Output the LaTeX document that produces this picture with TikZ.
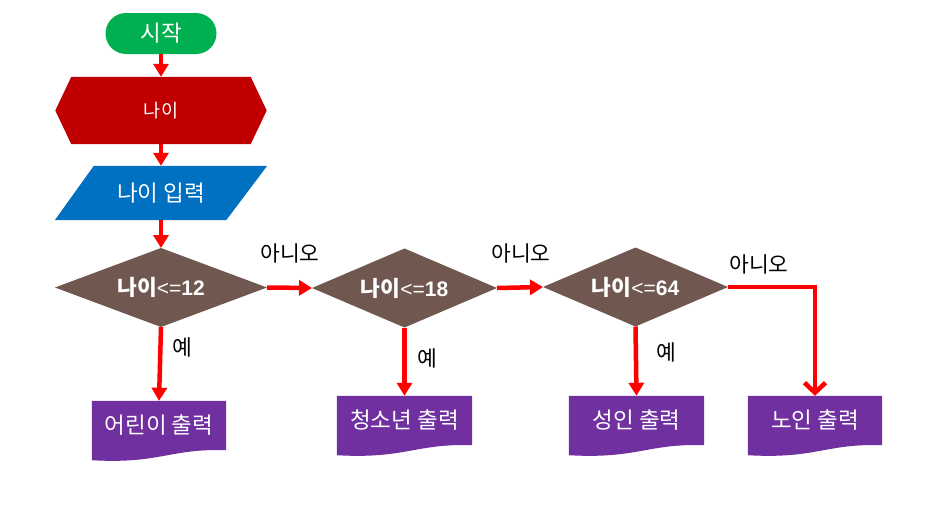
\documentclass[tikz,border=0pt]{standalone}
\usepackage{fontspec}
\setmainfont{Noto Sans CJK KR}
\newfontfamily\lsfont{Liberation Sans}
\usetikzlibrary{shapes.geometric,shapes.misc,arrows.meta,calc,backgrounds}
\definecolor{startgreen}{HTML}{00B050}
\definecolor{hexred}{HTML}{C00000}
\definecolor{inblue}{HTML}{0070C0}
\definecolor{decbrown}{HTML}{705850}
\definecolor{docpurple}{HTML}{7030A0}
\definecolor{arrowred}{HTML}{FF0000}
\newcommand{\cmpx}[1]{{\lsfont\mdseries\fontsize{21}{24}\selectfont <=\bfseries #1}}
\begin{document}
\begin{tikzpicture}[x=1pt,y=-1pt,
  wtxt/.style={text=white, inner sep=0pt, font=\fontsize{22.5}{26}\selectfont},
  startbox/.style={wtxt, rounded rectangle, fill=startgreen, minimum width=111pt, minimum height=41pt},
  plainbox/.style={wtxt, rectangle},
  decbox/.style={text=white, inner sep=0pt, outer sep=0pt, diamond, fill=decbrown, aspect=2.4, minimum height=79pt, font=\fontsize{21.5}{24}\selectfont\bfseries},
  flow/.style={draw=arrowred, line width=4.5pt, -{Triangle[width=15pt,length=13pt]}},
  flowopen/.style={draw=arrowred, line width=4.5pt, -{Straight Barb[width=21pt,length=10pt]}},
  lbl/.style={text=black, inner sep=0pt, font=\fontsize{21.5}{24}\selectfont}
]
\useasboundingbox (0,0) rectangle (940,509);

% nodes
\node[startbox] (start) at (161,33.5) {시작};
\node[plainbox, minimum width=211pt, minimum height=67pt, font=\fontsize{18.5}{22}\selectfont] (hex) at (161,110.5) {나이};
\node[plainbox, minimum width=212pt, minimum height=54pt] (inp) at (161,193) {나이 입력};
\node[decbox, minimum width=212pt] (q1) at (161,287.5) {나이\cmpx{12}};
\node[decbox, minimum width=185pt] (q2) at (404.5,288) {나이\cmpx{18}};
\node[decbox, minimum width=185pt] (q3) at (635.5,287) {나이\cmpx{64}};
\node[plainbox, minimum width=134pt, minimum height=49pt] (o1) at (159,425.5) {어린이 출력};
\node[plainbox, minimum width=135pt, minimum height=49pt] (o2) at (404.5,420.5) {청소년 출력};
\node[plainbox, minimum width=135pt, minimum height=49pt] (o3) at (636.5,420.5) {성인 출력};
\node[plainbox, minimum width=134pt, minimum height=49pt] (o4) at (815,420.5) {노인 출력};

\node[lbl] (n1) at (290,253) {아니오};
\node[lbl] (n2) at (521,253) {아니오};
\node[lbl] (n3) at (759,264) {아니오};
\node[lbl] (y1) at (182.5,347) {예};
\node[lbl] (y2) at (427.5,358) {예};
\node[lbl] (y3) at (666,352.5) {예};

% shapes behind text
\begin{scope}[on background layer]
  \fill[hexred] (hex.west) -- ($(hex.north west)+(16,0)$) -- ($(hex.north east)+(-16,0)$)
    -- (hex.east) -- ($(hex.south east)+(-16,0)$) -- ($(hex.south west)+(16,0)$) -- cycle;
  \fill[inblue] (inp.south west) -- ($(inp.north west)+(39,0)$) -- (inp.north east)
    -- ($(inp.south east)+(-41,0)$) -- cycle;
  \foreach \d in {o1,o2,o3,o4}{
    \fill[docpurple] (\d.north west) -- (\d.north east) -- (\d.south east)
      .. controls ($(\d.south east)+(-56,-2)$) and ($(\d.south west)+(68,14)$)
      .. ($(\d.south west)+(0,10)$) -- cycle;
  }
\end{scope}

% connectors
\draw[flow] (start.south) -- (hex.north);
\draw[flow] (hex.south) -- (inp.north);
\draw[flow] (inp.south) -- (q1.north);
\draw[flow] (q1.east) -- (q2.west);
\draw[flow] (q2.east) -- (q3.west);
\draw[flow] (q1.south) -- (o1.north);
\draw[flow] (q2.south) -- (o2.north);
\draw[flow] (q3.south) -- (o3.north);
\draw[flowopen] (q3.east) -| (o4.north);
\end{tikzpicture}
\end{document}
